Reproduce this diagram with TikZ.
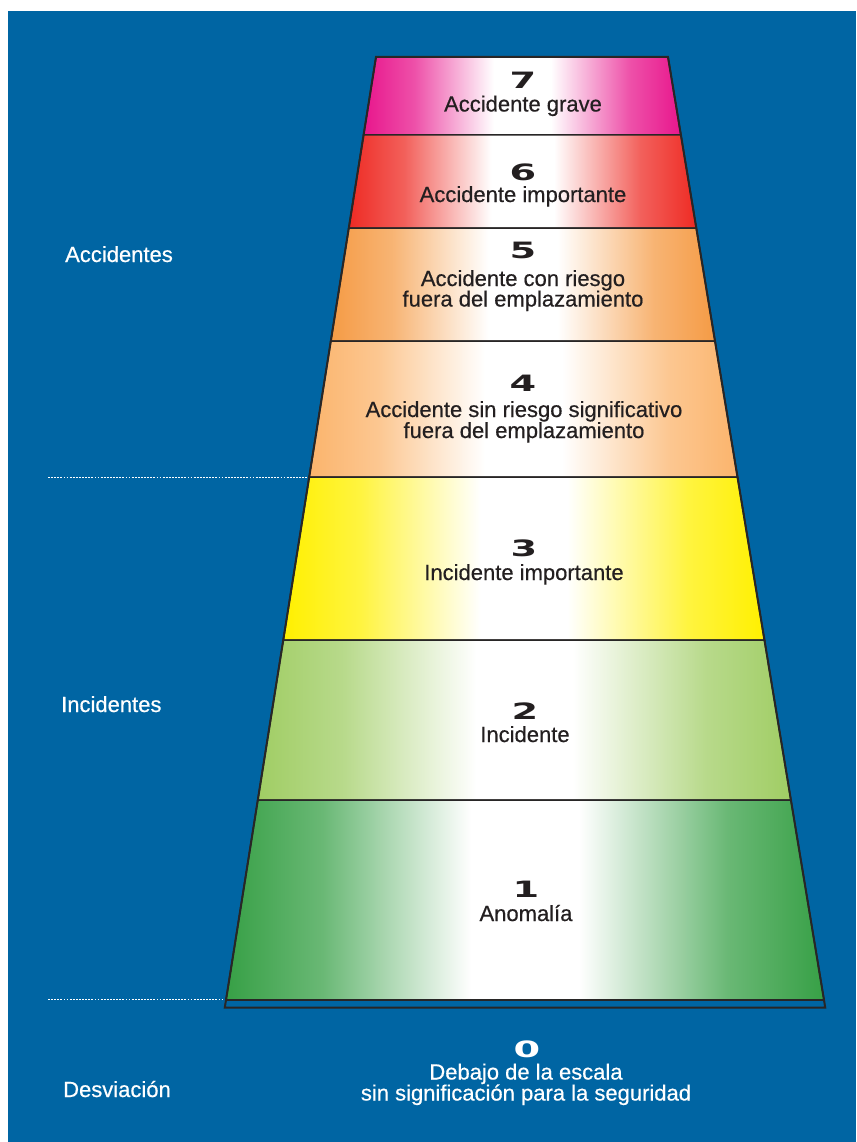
\documentclass[tikz,border=0pt]{standalone}
\usepackage{fontspec}
\usepackage{graphicx}
\setmainfont{Liberation Sans}
\newfontfamily\txtfont{Liberation Sans}[FakeBold=0.5]
\newfontfamily\numfont{DejaVu Sans}
\definecolor{bgblue}{RGB}{0,101,163}
\definecolor{linec}{RGB}{40,38,38}
\definecolor{txtc}{RGB}{35,31,32}
\definecolor{c7}{RGB}{232,22,140}
\definecolor{c6}{RGB}{238,43,36}
\definecolor{c5}{RGB}{245,155,69}
\definecolor{c4}{RGB}{251,180,108}
\definecolor{c3}{RGB}{255,240,0}
\definecolor{c2}{RGB}{160,205,100}
\definecolor{c1}{RGB}{55,160,70}
\def\mkshade#1{%
  \pgfdeclarehorizontalshading{band#1}{100bp}{color(0bp)=(c#1); color(25bp)=(c#1); color(33bp)=(c#1!75!white); color(45.5bp)=(white); color(54.5bp)=(white); color(67bp)=(c#1!75!white); color(75bp)=(c#1); color(100bp)=(c#1)}}
\mkshade{1}\mkshade{2}\mkshade{3}\mkshade{4}\mkshade{5}\mkshade{6}\mkshade{7}
\tikzset{
  lbl/.style={text=txtc, font=\txtfont\fontsize{22}{22}\selectfont, anchor=base, inner sep=0pt, text height=15pt, text depth=4pt},
  wlbl/.style={lbl, text=white},
  num/.style={text=txtc, font=\numfont\bfseries\fontsize{22.5}{22.5}\selectfont, anchor=base, inner sep=0pt, text height=16pt, text depth=0pt},
  bandline/.style={draw=linec, line width=1.5pt},
  sep/.style={draw=white, line width=1.6pt, dash pattern=on 1.8pt off 1.3pt}
}
\begin{document}
\begin{tikzpicture}[x=1pt,y=-1pt]
\useasboundingbox (0,0) rectangle (856,1142);
\fill[white] (0,0) rectangle (856,1142);
\fill[bgblue] (8,11) rectangle (856,1142);
% bands
\shadedraw[shading=band7, bandline] (376,57) -- (668,57) -- (680.9,135) -- (363.6,135) -- cycle;
\shadedraw[shading=band6, bandline] (363.6,135) -- (680.9,135) -- (696.3,228) -- (348.8,228) -- cycle;
\shadedraw[shading=band5, bandline] (348.8,228) -- (696.3,228) -- (715.0,341) -- (330.8,341) -- cycle;
\shadedraw[shading=band4, bandline] (330.8,341) -- (715.0,341) -- (737.5,477) -- (309.2,477) -- cycle;
\shadedraw[shading=band3, bandline] (309.2,477) -- (737.5,477) -- (764.4,640) -- (283.3,640) -- cycle;
\shadedraw[shading=band2, bandline] (283.3,640) -- (764.4,640) -- (790.9,800) -- (257.8,800) -- cycle;
\shadedraw[shading=band1, bandline] (257.8,800) -- (790.9,800) -- (824,1000) -- (226,1000) -- cycle;
% outline
\draw[linec, line width=2pt, line join=miter] (376,57) -- (668,57) -- (824,1000) -- (825.2,1007.5) -- (224.8,1007.5) -- (226,1000) -- cycle;
\draw[linec, line width=1.5pt] (226,1000) -- (824,1000);
% dotted separators
\coordinate (s1a) at (48,477.5);
\coordinate (s1b) at (308,477.5);
\coordinate (s2a) at (48,999.5);
\coordinate (s2b) at (224,999.5);
\draw[sep] (s1a) -- (s1b);
\draw[sep] (s2a) -- (s2b);
% texts
\node[num] (n7) at (523,88.5) {\scalebox{1.7}[1]{7}};
\node[lbl] (t7) at (523,111.5) {Accidente grave};
\node[num] (n6) at (523,180) {\scalebox{1.7}[1]{6}};
\node[lbl] (t6) at (523,202) {Accidente importante};
\node[num] (n5) at (523,258) {\scalebox{1.7}[1]{5}};
\node[lbl] (t5a) at (523,286) {Accidente con riesgo};
\node[lbl] (t5b) at (523,306.5) {fuera del emplazamiento};
\node[num] (n4) at (523,391) {\scalebox{1.7}[1]{4}};
\node[lbl] (t4a) at (524,417) {Accidente sin riesgo significativo};
\node[lbl] (t4b) at (524,438) {fuera del emplazamiento};
\node[num] (n3) at (524,556) {\scalebox{1.7}[1]{3}};
\node[lbl] (t3) at (524,580) {Incidente importante};
\node[num] (n2) at (525,719) {\scalebox{1.7}[1]{2}};
\node[lbl] (t2) at (525,742) {Incidente};
\node[num] (n1) at (526,897) {\scalebox{1.7}[1]{1}};
\node[lbl] (t1) at (526,921) {Anomalía};
\node[num, text=white] (n0) at (527,1057) {\scalebox{1.7}[1]{0}};
\node[wlbl] (t0a) at (526,1079.5) {Debajo de la escala};
\node[wlbl] (t0b) at (526,1100.5) {sin significación para la seguridad};
% side labels
\node[wlbl, anchor=base west] (acc) at (65,262) {Accidentes};
\node[wlbl, anchor=base west] (inc) at (61,712) {Incidentes};
\node[wlbl, anchor=base west] (des) at (63,1097) {Desviación};
\end{tikzpicture}
\end{document}
